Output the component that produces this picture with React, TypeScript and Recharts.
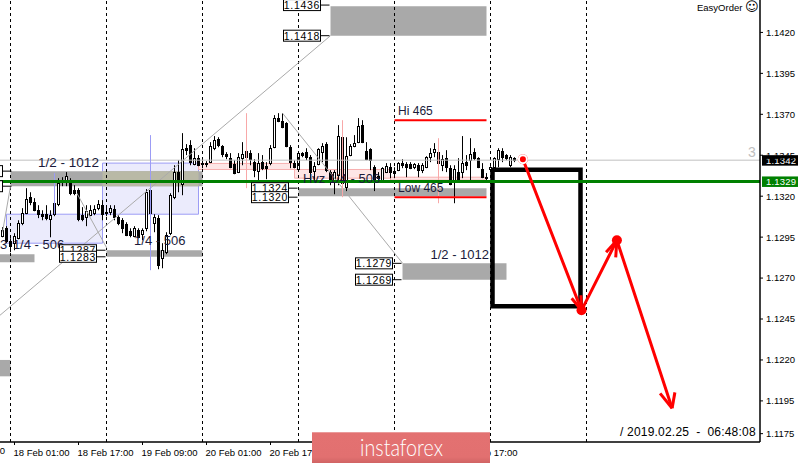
import {
  Bar,
  ComposedChart,
  Line,
  ReferenceArea,
  ReferenceDot,
  ReferenceLine,
  XAxis,
  YAxis,
} from 'recharts'

const FONT = '"Liberation Sans", Arial, sans-serif'

// hourly EURUSD candles in points (price * 100000), one row = 10 bars
const highs = [
  113011,113017,112943,112974,113053,113127,113249,113224,113188,113145,
  113114,113145,113114,113176,113310,113316,113347,113310,113267,113249,
  113133,113145,113145,113145,113176,113176,113133,113145,113145,113084,
  113066,113041,113004,113017,113004,113004,113243,113249,113090,113084,
  112913,112980,113218,113389,113420,113585,113518,113542,113493,113451,
  113420,113414,113530,113567,113560,113512,113469,113463,113420,113463,
  113530,113512,113481,113426,113463,113451,113408,113512,113695,113707,
  113707,113652,113512,113420,113469,113469,113493,113451,113408,113493,
  113524,113530,113359,113359,113634,113573,113560,113518,113573,113677,
  113664,113530,113493,113389,113347,113377,113402,113402,113377,113408,
  113426,113408,113408,113402,113402,113402,113444,113493,113524,113512,
  113451,113481,113389,113389,113432,113567,113451,113554,113493,113438,
  113402,113341,113383,113438,113493,113493,113457,113451,113438,
]
const lows = [
  112949,112913,112858,112870,112937,113023,113090,113145,113108,113066,
  113053,113053,112949,113078,113139,113261,113261,113206,113206,113047,
  113047,113017,113078,113084,113114,113053,113078,113084,113053,113023,
  112974,112956,112949,112949,112943,112931,112986,113029,112980,112754,
  112760,112846,112962,113182,113224,113206,113451,113389,113389,113383,
  113371,113377,113402,113481,113499,113438,113426,113371,113334,113341,
  113389,113420,113389,113316,113298,113359,113304,113389,113493,113652,
  113615,113499,113371,113371,113359,113438,113420,113286,113298,113389,
  113408,113347,113267,113212,113267,113206,113231,113444,113499,113524,
  113524,113420,113359,113231,113292,113292,113341,113310,113310,113353,
  113371,113316,113365,113365,113316,113341,113371,113408,113438,113359,
  113353,113347,113267,113157,113292,113310,113359,113298,113420,113371,
  113310,113298,113359,113371,113377,113408,113420,113377,113408,
]
const opens = [
  112956,113004,112925,112913,112943,113035,113096,113194,113163,113114,
  113090,113090,113059,113157,113151,113298,113298,113279,113237,113237,
  113084,113072,113084,113096,113127,113145,113102,113102,113121,113072,
  113053,113029,112986,112956,112992,112968,113004,113237,113035,113066,
  112821,112858,112974,113194,113347,113273,113493,113512,113396,113432,
  113402,113402,113408,113493,113548,113506,113457,113432,113396,113347,
  113432,113438,113463,113408,113353,113408,113383,113402,113499,113677,
  113658,113646,113499,113402,113365,113463,113469,113438,113353,113396,
  113469,113518,113347,113292,113328,113560,113255,113451,113506,113530,
  113634,113475,113487,113377,113322,113298,113347,113377,113353,113359,
  113402,113396,113396,113377,113389,113359,113377,113438,113469,113469,
  113389,113432,113371,113298,113347,113347,113408,113420,113469,113432,
  113365,113316,113365,113377,113426,113475,113451,113389,113432,
]
const closes = [
  112992,112925,112895,112956,113035,113096,113182,113163,113114,113090,
  113078,113066,113084,113090,113279,113286,113322,113218,113218,113059,
  113059,113108,113114,113121,113151,113090,113096,113127,113072,113035,
  113004,112962,112962,113004,112949,112992,113224,113096,113072,112778,
  112870,112962,113206,113347,113298,113487,113481,113408,113432,113389,
  113396,113396,113506,113542,113512,113457,113444,113377,113341,113438,
  113457,113475,113426,113359,113402,113371,113371,113493,113677,113658,
  113622,113506,113408,113377,113463,113451,113438,113347,113383,113487,
  113506,113359,113292,113347,113567,113279,113444,113506,113524,113628,
  113530,113426,113420,113298,113310,113371,113383,113347,113341,113402,
  113389,113377,113371,113396,113359,113389,113438,113463,113487,113402,
  113426,113377,113273,113365,113298,113402,113389,113457,113432,113377,
  113316,113310,113377,113432,113481,113438,113432,113438,113420,
]

const candles = highs.map((h, i) => ({
  bar: i,
  high: h / 100000,
  low: lows[i] / 100000,
  open: opens[i] / 100000,
  close: closes[i] / 100000,
}))

const priceTicks = [1.142, 1.1395, 1.137, 1.1345, 1.132, 1.1295, 1.127, 1.1245, 1.122, 1.1195, 1.1175]
// labels at bars 83 and 99 sit fully under the logo, so only these are drawn
const timeTicks = [3, 19, 35, 51, 67, 115]
const timeLabels = [
  '18 Feb 01:00', '18 Feb 17:00', '19 Feb 09:00', '20 Feb 01:00',
  '20 Feb 17:00', '22 Feb 17:00',
]
const daySeparators = [2, 26, 50, 74, 98, 122, 146]

const MIN_BAR = -0.625
const MAX_BAR = 189.375
const MIN_PRICE = 1.11699
const MAX_PRICE = 1.14398

// [bar from, bar to, price from, price to]
const blueBoxes = [
  [1, 25, 1.1309, 1.12913],
  [25, 49, 1.13402, 1.1309],
]
const greyZones = [
  [2, 50, 1.13353, 1.13261],
  [26, 50, 1.1287, 1.1283],
  [MIN_BAR, 8, 1.12846, 1.12797],
  [74, 121, 1.13249, 1.132],
  [82, 121, 1.1436, 1.1418],
  [100, 126, 1.1279, 1.1269],
  [MIN_BAR, 2, 1.122, 1.121],
]
const pinkZones = [
  [49, 73, 1.134, 1.13363],
  [73, 97, 1.13363, 1.1331],
  [97, 121, 1.13316, 1.13298],
]
// [bar, price from, price to]
const blueStems = [
  [13, 1.13341, 1.1309],
  [37, 1.13573, 1.12748],
]
const pinkStems = [
  [61, 1.13707, 1.13249],
  [85, 1.13664, 1.13194],
  [109, 1.13554, 1.13157],
]
// [bar, price, bar, price]
const trendLines = [
  [MIN_BAR, 1.12473, 82, 1.1418],
  [2, 1.13261, 0, 1.1298],
  [18.6, 1.13218, 26.1, 1.12882],
  [70, 1.13707, 100, 1.12791],
]
const arrowPath = [
  { bar: 130.1, arrow: 1.13426 },
  { bar: 144.75, arrow: 1.12503 },
  { bar: 153.6, arrow: 1.12931 },
  { bar: 167.4, arrow: 1.11905 },
]
const arrowBarbs = [
  [144.75, 1.12503, 142.3, 1.12577],
  [144.75, 1.12503, 144.6, 1.12595],
  [153.6, 1.12931, 150.9, 1.12858],
  [153.6, 1.12931, 153.3, 1.12827],
  [167.4, 1.11905, 164.4, 1.11996],
  [167.4, 1.11905, 168.1, 1.12002],
]
// [bar at the right edge of the box, label, box centre price]
const priceBoxes: [number, string, number][] = [
  [79.5, '1.1436', 1.14367],
  [79.5, '1.1418', 1.1418],
  [71.5, '1.1324', 1.13249],
  [71.5, '1.1320', 1.13194],
  [23.5, '1.1287', 1.1287],
  [23.5, '1.1283', 1.1283],
  [97.5, '1.1279', 1.1279],
  [97.5, '1.1269', 1.1269],
  [0, '', 1.13353],
  [0, '', 1.13261],
]
// [bar, price, text, font size]
const behindLabels: [number, number, string, number][] = [[75.1, 1.1331, 'Hvz 1/4 - 506', 13]]
const frontLabels: [number, number, string, number][] = [
  [8.9, 1.13408, '1/2 - 1012', 13.5],
  [MIN_BAR, 1.12907, '3', 13],
  [2.6, 1.12907, '1/4 - 506', 13],
  [32.9, 1.12931, '1/4 - 506', 13],
  [107, 1.12846, '1/2 - 1012.', 13],
  [98.9, 1.13725, 'Hi 465', 12],
  [98.9, 1.13255, 'Low 465', 12],
]

function CandleShape(props: any) {
  const { x, y, width, height, payload } = props
  const cx = Math.floor(x + width / 2) + 0.5
  const k = height / (payload.high - payload.low)
  const up = payload.close >= payload.open
  const top = y + (payload.high - Math.max(payload.open, payload.close)) * k
  const bottom = y + (payload.high - Math.min(payload.open, payload.close)) * k
  const yTop = Math.round(top) + 0.5
  const yBot = Math.max(Math.round(bottom) + 0.5, yTop + 1)
  return (
    <g>
      <line x1={cx} x2={cx} y1={y} y2={y + height} stroke="#000" />
      <rect
        x={cx - 1}
        width={2}
        y={yTop}
        height={yBot - yTop}
        fill={up ? '#fff' : '#000'}
        stroke="#000"
      />
    </g>
  )
}

function textShape(text: string, size: number) {
  return (p: any) => (
    <text x={p.cx} y={p.cy + 4.5} fontFamily={FONT} fontSize={size} fill="#1a1a3a">
      {text}
    </text>
  )
}

function priceBoxShape(text: string) {
  return (p: any) => (
    <g>
      <line x1={p.cx} x2={p.cx + 9} y1={p.cy} y2={p.cy} stroke="#000" />
      <rect x={p.cx - 37} y={p.cy - 5.5} width={37} height={11} fill="#fff" stroke="#000" />
      <text x={p.cx - 18.5} y={p.cy + 4} textAnchor="middle" fontFamily={FONT} fontSize={10.5} letterSpacing={0.7} fill="#000">
        {text}
      </text>
    </g>
  )
}

function axisBoxShape(text: string, fill: string) {
  return (p: any) => (
    <g>
      <rect x={p.cx + 2} y={p.cy - 5} width={36} height={10.5} fill={fill} />
      <text x={p.cx + 6} y={p.cy + 4} fontFamily={FONT} fontSize={9.5} letterSpacing={0.2} fill="#fff">
        {text}
      </text>
    </g>
  )
}

function TimeTick({ x, y, payload }: any) {
  return (
    <text x={x - 1} y={y + 9} fontFamily={FONT} fontSize={9.5} fill="#000">
      {timeLabels[timeTicks.indexOf(payload.value)]}
    </text>
  )
}

const dotRadius = 5

export default function App() {
  return (
    <div style={{ position: 'absolute', left: 0, top: 0, width: 800, height: 463, background: '#fff', overflow: 'hidden' }}>
      <ComposedChart
        width={800}
        height={463}
        data={candles}
        margin={{ top: 0, right: 0, bottom: 0, left: 0 }}
      >
        <XAxis
          dataKey="bar"
          type="number"
          scale="linear"
          domain={[MIN_BAR, MAX_BAR]}
          allowDataOverflow
          ticks={timeTicks}
          interval={0}
          height={21}
          tick={<TimeTick />}
          tickSize={3}
          axisLine={{ stroke: '#000', strokeWidth: 1.5 }}
          tickLine={{ stroke: '#000' }}
        />
        <YAxis
          type="number"
          orientation="right"
          width={40}
          domain={[MIN_PRICE, MAX_PRICE]}
          allowDataOverflow
          ticks={priceTicks}
          interval={0}
          tickFormatter={(v: number) => v.toFixed(4)}
          tick={{ fill: '#000', fontSize: 9.5, fontFamily: FONT }}
          tickSize={3}
          tickMargin={3}
          axisLine={{ stroke: '#000', strokeWidth: 1.5 }}
          tickLine={{ stroke: '#000' }}
        />

        {blueBoxes.map((b, i) => (
          <ReferenceArea key={i} x1={b[0]} x2={b[1]} y1={b[2]} y2={b[3]} fill="#ebebfc" fillOpacity={1} stroke="#9c9cf5" />
        ))}
        {greyZones.map((z, i) => (
          <ReferenceArea key={i} x1={z[0]} x2={z[1]} y1={z[2]} y2={z[3]} fill="#a9a9a9" fillOpacity={1} stroke="none" />
        ))}
        {pinkZones.map((z, i) => (
          <ReferenceArea key={i} x1={z[0]} x2={z[1]} y1={z[2]} y2={z[3]} fill="#fde6e6" fillOpacity={1} stroke="#f7b0b0" />
        ))}
        {/* where the blue box lies over the grey zone the terminal blends them */}
        <ReferenceArea x1={25} x2={49} y1={1.13353} y2={1.13261} fill="#b9b9a6" fillOpacity={1} stroke="none" />

        {daySeparators.map((b) => (
          <ReferenceLine key={b} x={b} stroke="#000" strokeDasharray="3 3" />
        ))}
        <ReferenceLine y={1.1342} stroke="#c0c0c0" />
        {trendLines.map((t, i) => (
          <ReferenceLine
            key={i}
            segment={[{ x: t[0], y: t[1] }, { x: t[2], y: t[3] }]}
            stroke="#aaaaaa"
            ifOverflow="visible"
          />
        ))}
        {blueStems.map((s, i) => (
          <ReferenceLine key={i} segment={[{ x: s[0], y: s[1] }, { x: s[0], y: s[2] }]} stroke="#9c9cf5" />
        ))}
        {pinkStems.map((s, i) => (
          <ReferenceLine key={i} segment={[{ x: s[0], y: s[1] }, { x: s[0], y: s[2] }]} stroke="#f8a8a8" />
        ))}
        {behindLabels.map((l, i) => (
          <ReferenceDot key={i} x={l[0]} y={l[1]} ifOverflow="visible" shape={textShape(l[2], l[3])} />
        ))}

        <Bar
          dataKey={(d: any) => [d.low, d.high]}
          barSize={3}
          shape={<CandleShape />}
          isAnimationActive={false}
        />

        <ReferenceLine y={1.1329} stroke="#008000" strokeWidth={3} />
        <ReferenceLine segment={[{ x: 98, y: 1.13664 }, { x: 121, y: 1.13664 }]} stroke="#ff0000" strokeWidth={2} />
        <ReferenceLine segment={[{ x: 98, y: 1.13194 }, { x: 121, y: 1.13194 }]} stroke="#ff0000" strokeWidth={2} />

        {frontLabels.map((l, i) => (
          <ReferenceDot key={i} x={l[0]} y={l[1]} ifOverflow="visible" shape={textShape(l[2], l[3])} />
        ))}
        {priceBoxes.map((b, i) => (
          <ReferenceDot key={i} x={b[0]} y={b[2]} ifOverflow="visible" shape={priceBoxShape(b[1])} />
        ))}

        <ReferenceArea x1={122.5} x2={144.5} y1={1.13362} y2={1.12528} fill="none" stroke="#000" strokeWidth={4.5} />

        <Line
          dataKey="arrow"
          data={arrowPath}
          stroke="#ff0000"
          strokeWidth={3}
          dot={false}
          isAnimationActive={false}
        />
        {arrowBarbs.map((a, i) => (
          <ReferenceLine key={i} segment={[{ x: a[0], y: a[1] }, { x: a[2], y: a[3] }]} stroke="#ff0000" strokeWidth={3} />
        ))}
        {arrowPath.slice(0, 3).map((p) => (
          <ReferenceDot key={p.bar} x={p.bar} y={p.arrow} r={dotRadius} fill="#ff0000" stroke="none" />
        ))}

        <ReferenceDot x={MAX_BAR} y={1.1342} ifOverflow="visible" shape={axisBoxShape('1.1342', '#000')} />
        <ReferenceDot x={MAX_BAR} y={1.1329} ifOverflow="visible" shape={axisBoxShape('1.1329', '#008000')} />
        <ReferenceDot
          x={MAX_BAR - 2}
          y={1.1347}
          ifOverflow="visible"
          shape={(p: any) => (
            <text x={p.cx} y={p.cy + 5} textAnchor="middle" fontFamily={FONT} fontSize={14} fill="#c0c0c0">3</text>
          )}
        />
        <ReferenceDot
          x={MIN_BAR}
          y={MIN_PRICE}
          ifOverflow="visible"
          shape={(p: any) => (
            <text x={p.cx + 5} y={p.cy + 12} textAnchor="end" fontFamily={FONT} fontSize={9.5} fill="#000">17 Feb 09:00</text>
          )}
        />
      </ComposedChart>

      <div style={{ position: 'absolute', left: 697, top: 1, fontFamily: FONT, fontSize: 9.5, lineHeight: '12px', color: '#000', whiteSpace: 'nowrap' }}>
        EasyOrder <span style={{ fontFamily: '"DejaVu Sans"', fontSize: 13 }}>☺</span>
      </div>
      <div style={{ position: 'absolute', left: 620, top: 425, fontFamily: FONT, fontSize: 12, lineHeight: '14px', color: '#000', whiteSpace: 'pre', letterSpacing: 0.2 }}>
        {'/ 2019.02.25  -  06:48:08'}
      </div>
      <div
        style={{
          position: 'absolute',
          left: 312,
          top: 432,
          width: 178,
          height: 31,
          background: 'linear-gradient(#e37171, #e27070 80%, #d06464)',
          borderTop: '1px solid #ea9a9a',
          boxSizing: 'border-box',
          color: '#fff',
          fontFamily: 'Lato, Roboto, sans-serif',
          fontWeight: 300,
          fontSize: 24,
          lineHeight: '28px',
          textAlign: 'center',
        }}
      >
        <span style={{ display: 'inline-block', transform: 'scaleX(0.82)' }}>instaforex</span>
      </div>
    </div>
  )
}
